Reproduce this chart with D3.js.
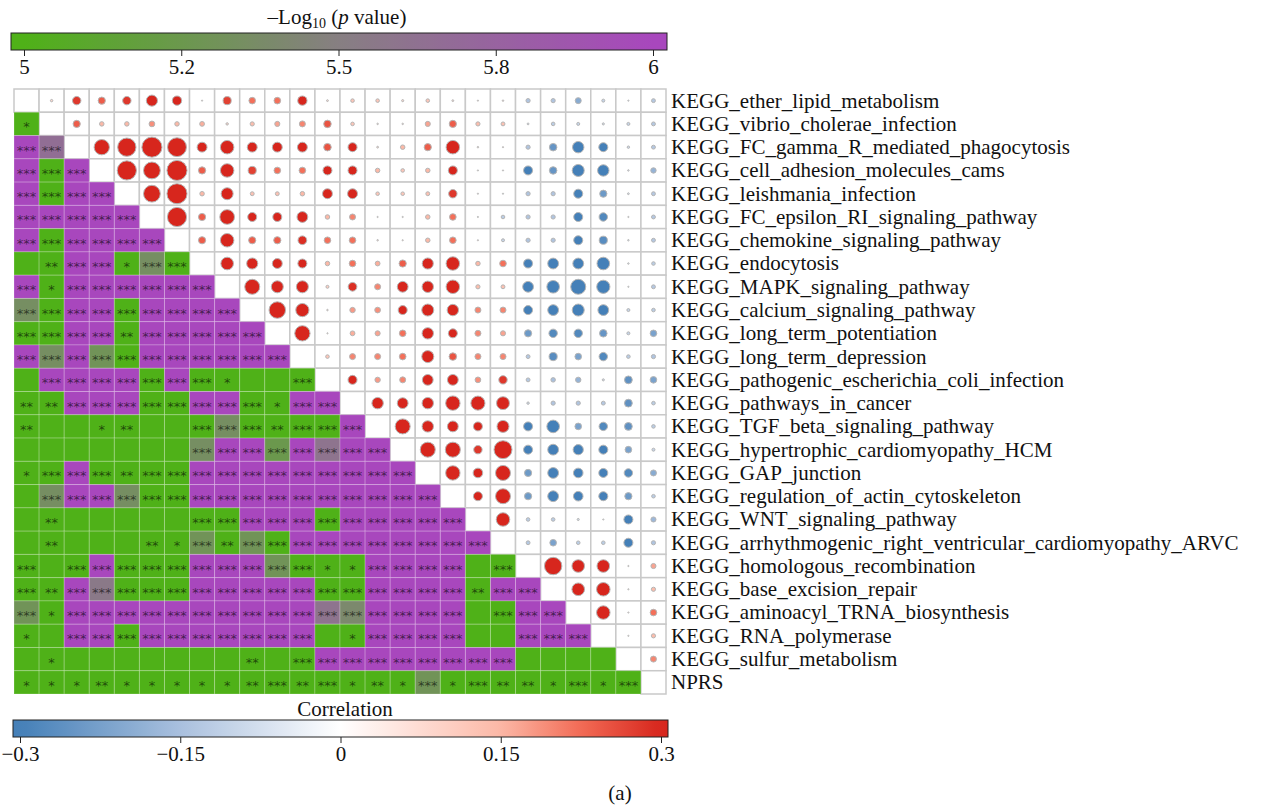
<!DOCTYPE html>
<html>
<head>
<meta charset="utf-8">
<script src="https://cdn.jsdelivr.net/npm/d3@7"></script>
<style>
  body { margin: 0; background: #ffffff; }
  svg { display: block; }
</style>
</head>
<body>
<svg id="chart" width="1263" height="805"></svg>
<script>
// Pathway names (rows and columns share this order)
const pathways = [
  "KEGG_ether_lipid_metabolism",
  "KEGG_vibrio_cholerae_infection",
  "KEGG_FC_gamma_R_mediated_phagocytosis",
  "KEGG_cell_adhesion_molecules_cams",
  "KEGG_leishmania_infection",
  "KEGG_FC_epsilon_RI_signaling_pathway",
  "KEGG_chemokine_signaling_pathway",
  "KEGG_endocytosis",
  "KEGG_MAPK_signaling_pathway",
  "KEGG_calcium_signaling_pathway",
  "KEGG_long_term_potentiation",
  "KEGG_long_term_depression",
  "KEGG_pathogenic_escherichia_coli_infection",
  "KEGG_pathways_in_cancer",
  "KEGG_TGF_beta_signaling_pathway",
  "KEGG_hypertrophic_cardiomyopathy_HCM",
  "KEGG_GAP_junction",
  "KEGG_regulation_of_actin_cytoskeleton",
  "KEGG_WNT_signaling_pathway",
  "KEGG_arrhythmogenic_right_ventricular_cardiomyopathy_ARVC",
  "KEGG_homologous_recombination",
  "KEGG_base_excision_repair",
  "KEGG_aminoacyl_TRNA_biosynthesis",
  "KEGG_RNA_polymerase",
  "KEGG_sulfur_metabolism",
  "NPRS"
];

// Correlation, upper triangle: row i holds columns i+1 .. 25
const corrUpper = [
  [0.08, 0.28, 0.24, 0.28, 0.37, 0.31, 0.02, 0.27, 0.22, 0.22, 0.31, 0.06, 0.12, 0.12, 0.07, 0.12, 0.06, 0.04, 0.05, -0.14, -0.14, -0.20, -0.10, -0.04, -0.13],
  [0.24, 0.15, 0.15, 0.19, 0.15, 0.16, 0.08, 0.14, 0.17, 0.20, 0.25, 0.12, 0.05, 0.05, 0.17, 0.24, 0.14, 0.13, -0.06, -0.12, -0.10, -0.07, -0.10, -0.13],
  [0.51, 0.61, 0.67, 0.63, 0.33, 0.45, 0.33, 0.33, 0.33, 0.25, 0.30, 0.06, 0.15, 0.24, 0.45, 0.05, 0.04, -0.14, -0.25, -0.38, -0.30, -0.08, -0.13],
  [0.64, 0.56, 0.67, 0.24, 0.45, 0.27, 0.22, 0.22, 0.30, 0.30, 0.15, 0.12, 0.15, 0.30, 0.01, 0.01, -0.30, -0.25, -0.40, -0.38, -0.05, -0.18],
  [0.56, 0.67, 0.15, 0.40, 0.13, 0.13, 0.15, 0.33, 0.33, 0.12, 0.12, 0.13, 0.28, 0.02, -0.04, -0.14, -0.14, -0.30, -0.24, -0.06, -0.13],
  [0.64, 0.24, 0.49, 0.30, 0.30, 0.36, 0.15, 0.20, 0.03, 0.03, 0.15, 0.22, 0.01, -0.12, -0.14, -0.14, -0.30, -0.28, 0.01, -0.13],
  [0.24, 0.45, 0.24, 0.24, 0.29, 0.22, 0.22, 0.05, 0.04, 0.15, 0.22, 0.04, -0.10, -0.14, -0.14, -0.30, -0.27, -0.05, -0.13],
  [0.42, 0.37, 0.33, 0.30, 0.15, 0.22, 0.16, 0.24, 0.37, 0.45, 0.15, 0.22, -0.30, -0.36, -0.36, -0.42, -0.05, -0.12],
  [0.50, 0.40, 0.40, 0.10, 0.29, 0.20, 0.36, 0.38, 0.45, 0.14, 0.13, -0.36, -0.42, -0.50, -0.44, -0.04, -0.13],
  [0.55, 0.44, 0.05, 0.18, 0.19, 0.30, 0.40, 0.38, 0.20, 0.20, -0.30, -0.36, -0.40, -0.36, -0.10, -0.12],
  [0.51, 0.04, 0.16, 0.17, 0.22, 0.38, 0.30, 0.20, 0.17, -0.24, -0.28, -0.28, -0.25, -0.10, -0.22],
  [0.12, 0.20, 0.20, 0.22, 0.40, 0.25, 0.20, 0.20, -0.13, -0.27, -0.22, -0.28, -0.12, -0.14],
  [0.30, 0.18, 0.20, 0.36, 0.36, 0.19, 0.28, -0.13, -0.15, -0.18, -0.07, -0.26, -0.22],
  [0.38, 0.36, 0.38, 0.48, 0.47, 0.43, -0.08, -0.14, -0.14, -0.13, -0.26, -0.12],
  [0.50, 0.38, 0.36, 0.30, 0.40, -0.30, -0.42, -0.22, -0.28, -0.26, -0.12],
  [0.50, 0.50, 0.28, 0.60, -0.30, -0.36, -0.34, -0.30, -0.22, -0.10],
  [0.48, 0.32, 0.50, -0.24, -0.36, -0.32, -0.30, -0.28, -0.20],
  [0.30, 0.50, -0.24, -0.36, -0.32, -0.30, -0.24, -0.12],
  [0.45, -0.12, -0.12, -0.07, -0.02, -0.30, -0.17],
  [-0.13, -0.22, -0.12, -0.12, -0.30, -0.14],
  [0.58, 0.42, 0.42, 0.03, 0.17],
  [0.42, 0.45, 0.04, 0.14],
  [0.45, 0.02, 0.22],
  [0.01, 0.14],
  [0.20],
  []
];

// -log10(p value), lower triangle: row i holds columns 0 .. i-1
const logPLower = [
  [],
  [5],
  [6, 5.65],
  [6, 5, 6],
  [6, 5, 6, 6],
  [6, 6, 6, 6, 6],
  [6, 5, 6, 6, 6, 6],
  [5, 5, 6, 6, 5, 5.35, 5],
  [6, 5, 6, 6, 6, 6, 6, 6],
  [5.35, 5, 6, 6, 5, 6, 6, 6, 6],
  [5, 5, 6, 6, 5, 6, 6, 6, 6, 6],
  [6, 5.35, 6, 5.3, 5, 6, 6, 6, 6, 6, 6],
  [5, 6, 6, 6, 6, 5, 6, 5, 5, 5, 5, 5],
  [5, 5, 6, 6, 6, 5, 5, 6, 6, 5, 5, 6, 6],
  [5, 5, 5, 5, 5, 5, 5, 5, 5.35, 5, 5, 5, 5, 6],
  [5, 5, 5, 5, 5, 5, 5, 5.35, 6, 6, 5.25, 6, 5.6, 6, 6],
  [5, 5, 6, 5, 5, 5, 5, 6, 6, 6, 6, 6, 6, 6, 6, 6],
  [5, 5.35, 6, 6, 5.35, 5, 5, 6, 6, 6, 6, 6, 6, 6, 6, 6, 6],
  [5, 5, 5, 5, 5, 5, 5, 5, 5, 6, 6, 6, 5, 6, 6, 6, 6, 6],
  [5, 5, 5, 5, 5, 5, 5, 5.3, 5, 5.3, 5, 6, 6, 6, 6, 6, 6, 6, 6],
  [5, 5, 5, 6, 5, 5, 5, 6, 6, 6, 5.3, 5, 5, 5, 6, 6, 6, 6, 5, 5],
  [5, 5, 6, 5.55, 5, 5, 5, 6, 6, 6, 6, 6, 5, 5, 6, 6, 6, 6, 5, 6, 6],
  [5.3, 5, 6, 6, 6, 6, 6, 6, 6, 6, 6, 6, 5.6, 5.4, 6, 6, 6, 6, 5, 5, 6, 6],
  [5, 5, 6, 6, 5, 6, 6, 6, 6, 6, 6, 6, 5, 5, 6, 6, 6, 6, 5, 5, 6, 6, 6],
  [5, 5, 5, 5, 5, 5, 5, 5, 5, 5, 5, 5, 6, 6, 6, 6, 6, 6, 6, 6, 5, 5, 5, 5],
  [5, 5, 5, 5, 5, 5, 5, 5, 5, 5, 5, 5, 5, 5, 5, 5, 5.3, 5, 5, 5, 5, 5, 5, 5, 5]
];

// Significance stars, lower triangle (same layout as logPLower)
const S3 = "***";
const starsLower = [
  [],
  ["*"],
  [S3, S3],
  [S3, S3, S3],
  [S3, S3, S3, S3],
  [S3, S3, S3, S3, S3],
  [S3, S3, S3, S3, S3, S3],
  ["", "**", S3, S3, "*", S3, S3],
  [S3, "*", S3, S3, S3, S3, S3, S3],
  [S3, S3, S3, S3, S3, S3, S3, S3, S3],
  [S3, S3, S3, S3, "**", S3, S3, S3, S3, S3],
  [S3, S3, S3, S3, S3, S3, S3, S3, S3, S3, S3],
  ["", S3, S3, S3, S3, S3, S3, S3, "*", "", "", S3],
  ["**", "**", S3, S3, S3, S3, S3, S3, S3, S3, "*", S3, S3],
  ["**", "", "", "*", "**", "", "", S3, S3, S3, "**", S3, S3, S3],
  ["", "", "", "", "", "", "", S3, S3, S3, S3, S3, S3, S3, S3],
  ["*", S3, S3, S3, "**", S3, S3, S3, S3, S3, S3, S3, S3, S3, S3, S3],
  ["", S3, S3, S3, S3, S3, S3, S3, S3, S3, S3, S3, S3, S3, S3, S3, S3],
  ["", "**", "", "", "", "", "", S3, S3, S3, S3, S3, S3, S3, S3, S3, S3, S3],
  ["", "**", "", "", "", "**", "*", S3, "**", S3, S3, S3, S3, S3, S3, S3, S3, S3, S3],
  [S3, "", S3, S3, S3, S3, S3, S3, S3, S3, S3, S3, "*", "*", S3, S3, S3, S3, "", S3],
  [S3, "**", S3, S3, S3, S3, S3, S3, S3, S3, S3, S3, S3, S3, S3, S3, S3, S3, "**", S3, S3],
  [S3, "*", S3, S3, S3, S3, S3, S3, S3, S3, S3, S3, S3, S3, S3, S3, S3, S3, "", S3, S3, S3],
  ["*", "", S3, S3, S3, S3, S3, S3, S3, S3, S3, S3, "", "*", S3, S3, S3, S3, "", "", S3, S3, S3],
  ["", "*", "", "", "", "", "", "", "", "**", "", S3, S3, S3, S3, S3, S3, S3, S3, S3, "", "", "", ""],
  ["*", "*", "*", "**", "*", "*", "*", "*", "*", "**", S3, "**", S3, "*", "**", "*", S3, "*", S3, "**", "**", "*", S3, "*", S3]
];

// Colour bar ticks
const logPTicks = [5, 5.25, 5.5, 5.75, 6];
const logPTickLabels = ["5", "5.2", "5.5", "5.8", "6"];
const corrTicks = [-0.3, -0.15, 0, 0.15, 0.3];
const corrTickLabels = ["\u22120.3", "\u22120.15", "0", "0.15", "0.3"];

// ---------------------------------------------------------------
const svg = d3.select("#chart");
const serif = "'Liberation Serif', 'DejaVu Serif', serif";

const x = d3.scaleBand().domain(pathways).range([14, 666]);
const y = d3.scaleBand().domain(pathways).range([89, 694]);

const pColor = d3.scaleLinear()
  .domain([5, 5.5, 6])
  .range(["#4fb118", "#877f82", "#a847bd"])
  .interpolate(d3.interpolateRgb)
  .clamp(true);

const corrColor = d3.scaleLinear()
  .domain([-0.3, -0.15, 0, 0.15, 0.225, 0.3])
  .range(["#4580b8", "#a9c0de", "#ffffff", "#fcb8a6", "#f26b55", "#d7261d"])
  .clamp(true);

const radius = d3.scaleLinear().domain([0, 0.7]).range([0, 10.5]).clamp(true);

// Flatten into cell records
const cells = [];
pathways.forEach((rowName, i) => {
  pathways.forEach((colName, j) => {
    const c = { row: rowName, col: colName, i, j };
    if (j < i) { c.type = "lower"; c.p = logPLower[i][j]; c.stars = starsLower[i][j]; }
    else if (j > i) { c.type = "upper"; c.r = corrUpper[i][j - i - 1]; }
    else { c.type = "diag"; }
    cells.push(c);
  });
});

const grid = svg.append("g");

// White cells (upper triangle and diagonal) with grey borders
grid.selectAll("rect.blank")
  .data(cells.filter(d => d.type !== "lower"))
  .join("rect")
  .attr("class", "blank")
  .attr("x", d => x(d.col))
  .attr("y", d => y(d.row))
  .attr("width", x.bandwidth())
  .attr("height", y.bandwidth())
  .attr("fill", "#ffffff")
  .attr("stroke", "#c9c9c9")
  .attr("stroke-width", 1.5);

// p-value tiles in the lower triangle
grid.selectAll("rect.tile")
  .data(cells.filter(d => d.type === "lower"))
  .join("rect")
  .attr("class", "tile")
  .attr("x", d => x(d.col))
  .attr("y", d => y(d.row))
  .attr("width", x.bandwidth())
  .attr("height", y.bandwidth())
  .attr("fill", d => pColor(d.p))
  .attr("stroke", "rgba(255,255,255,0.22)")
  .attr("stroke-width", 1);

// Significance stars
grid.selectAll("text.star")
  .data(cells.filter(d => d.type === "lower" && d.stars))
  .join("text")
  .attr("class", "star")
  .attr("x", d => x(d.col) + x.bandwidth() / 2)
  .attr("y", d => y(d.row) + y.bandwidth() / 2 + 7.5)
  .attr("text-anchor", "middle")
  .attr("font-family", "'DejaVu Sans', sans-serif")
  .attr("font-size", 13)
  .attr("fill", "#000")
  .attr("fill-opacity", 0.6)
  .text(d => d.stars);

// Correlation circles in the upper triangle
grid.selectAll("circle.corr")
  .data(cells.filter(d => d.type === "upper"))
  .join("circle")
  .attr("class", "corr")
  .attr("cx", d => x(d.col) + x.bandwidth() / 2)
  .attr("cy", d => y(d.row) + y.bandwidth() / 2)
  .attr("r", d => Math.max(radius(Math.abs(d.r)), 0.6))
  .attr("fill", d => corrColor(d.r))
  .attr("stroke", "#b5b5b5")
  .attr("stroke-width", 1);

// Row labels
svg.append("g").selectAll("text")
  .data(pathways)
  .join("text")
  .attr("x", 671)
  .attr("y", d => y(d) + y.bandwidth() / 2)
  .attr("dy", "0.33em")
  .attr("font-family", serif)
  .attr("font-size", 21)
  .attr("fill", "#111")
  .text(d => d);

// ---------------------------------------------------------------
// Colour bars
const defs = svg.append("defs");

function gradient(id, scale, lo, hi) {
  const g = defs.append("linearGradient").attr("id", id)
    .attr("x1", "0%").attr("x2", "100%").attr("y1", "0%").attr("y2", "0%");
  d3.range(0, 1.0001, 0.02).forEach(t => {
    g.append("stop").attr("offset", (t * 100) + "%").attr("stop-color", scale(lo + t * (hi - lo)));
  });
}

function colorBar(opts) {
  const g = svg.append("g");
  const barScale = d3.scaleLinear().domain(opts.domain).range(opts.range);
  const lo = barScale.invert(opts.x0), hi = barScale.invert(opts.x1);
  gradient(opts.id, opts.color, lo, hi);
  g.append("rect")
    .attr("x", opts.x0).attr("y", opts.y)
    .attr("width", opts.x1 - opts.x0).attr("height", opts.h)
    .attr("fill", `url(#${opts.id})`)
    .attr("stroke", "#222").attr("stroke-width", 1);
  const axis = d3.axisBottom(barScale)
    .tickValues(opts.ticks)
    .tickFormat((d, k) => opts.labels[k])
    .tickSize(6)
    .tickPadding(3);
  const ax = g.append("g").attr("transform", `translate(0,${opts.y + opts.h})`).call(axis);
  ax.select(".domain").remove();
  ax.selectAll(".tick line").attr("stroke", "#222");
  ax.selectAll(".tick text")
    .attr("font-family", serif).attr("font-size", 21).attr("fill", "#111");
  return g;
}

colorBar({
  id: "gradP", color: pColor, domain: [5, 6], range: [24, 653],
  x0: 11, x1: 667, y: 33, h: 17, ticks: logPTicks, labels: logPTickLabels
});

colorBar({
  id: "gradR", color: corrColor, domain: [-0.3, 0.3], range: [20, 661],
  x0: 13, x1: 668, y: 720, h: 17, ticks: corrTicks, labels: corrTickLabels
});

// Titles
const t1 = svg.append("text")
  .attr("x", 337).attr("y", 24)
  .attr("text-anchor", "middle")
  .attr("font-family", serif).attr("font-size", 21).attr("fill", "#111");
t1.append("tspan").text("\u2013Log");
t1.append("tspan").attr("font-size", 14).attr("dy", 4).text("10");
t1.append("tspan").attr("dy", -4).text(" (");
t1.append("tspan").attr("font-style", "italic").text("p");
t1.append("tspan").text(" value)");

svg.append("text")
  .attr("x", 345).attr("y", 716)
  .attr("text-anchor", "middle")
  .attr("font-family", serif).attr("font-size", 21).attr("fill", "#111")
  .text("Correlation");

svg.append("text")
  .attr("x", 620).attr("y", 800)
  .attr("text-anchor", "middle")
  .attr("font-family", serif).attr("font-size", 21).attr("fill", "#111")
  .text("(a)");
</script>
</body>
</html>
